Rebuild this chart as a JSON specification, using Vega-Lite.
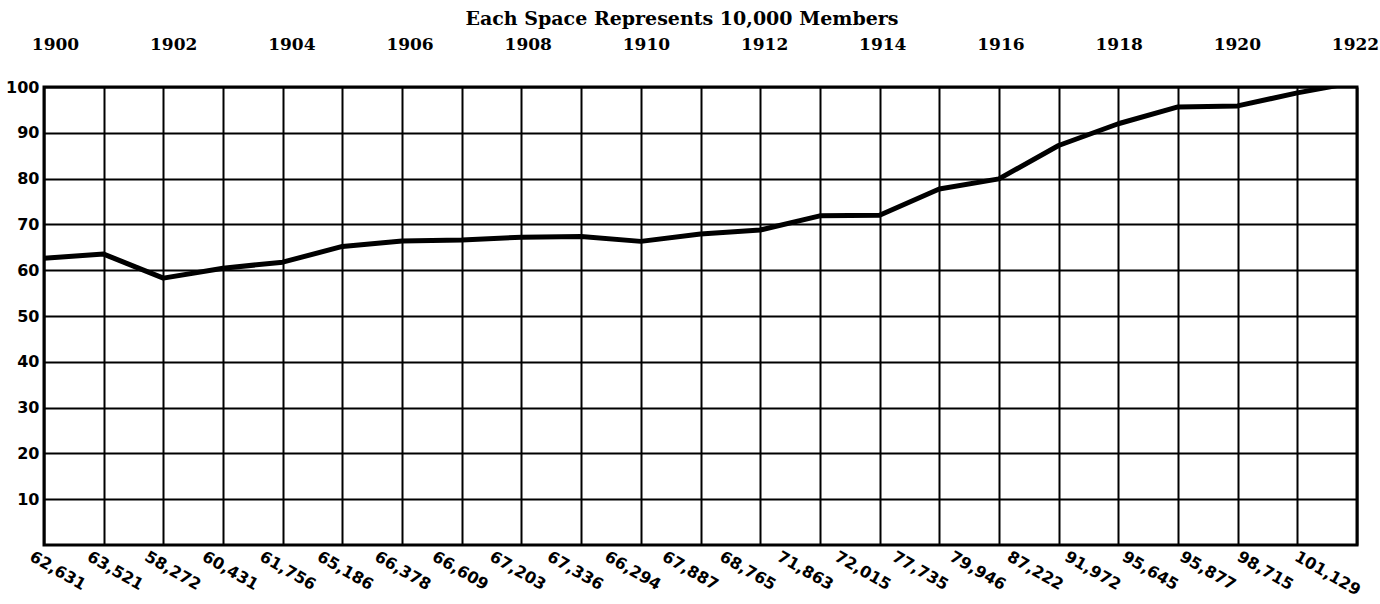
{
  "$schema": "https://vega.github.io/schema/vega-lite/v6.json",
  "width": 1313,
  "height": 458,
  "autosize": {"type": "none"},
  "padding": {"left": 44, "top": 87, "right": 23, "bottom": 59},
  "background": "white",
  "config": {"view": {"stroke": "black", "strokeWidth": 3}},
  "data": {"values": [
    {"year": 1900, "members": 62631},
    {"year": 1901, "members": 63521},
    {"year": 1902, "members": 58272},
    {"year": 1903, "members": 60431},
    {"year": 1904, "members": 61756},
    {"year": 1905, "members": 65186},
    {"year": 1906, "members": 66378},
    {"year": 1907, "members": 66609},
    {"year": 1908, "members": 67203},
    {"year": 1909, "members": 67336},
    {"year": 1910, "members": 66294},
    {"year": 1911, "members": 67887},
    {"year": 1912, "members": 68765},
    {"year": 1913, "members": 71863},
    {"year": 1914, "members": 72015},
    {"year": 1915, "members": 77735},
    {"year": 1916, "members": 79946},
    {"year": 1917, "members": 87222},
    {"year": 1918, "members": 91972},
    {"year": 1919, "members": 95645},
    {"year": 1920, "members": 95877},
    {"year": 1921, "members": 98715},
    {"year": 1922, "members": 101129}
  ]},
  "layer": [
    {
      "mark": {"type": "line", "color": "black", "strokeWidth": 5, "clip": true, "strokeJoin": "round"},
      "encoding": {
        "x": {"field": "year", "type": "quantitative",
          "scale": {"domain": [1900, 1922], "nice": false, "zero": false},
          "axis": {"values": [1900,1901,1902,1903,1904,1905,1906,1907,1908,1909,1910,1911,1912,1913,1914,1915,1916,1917,1918,1919,1920,1921,1922],
            "labels": false, "ticks": false, "domain": false, "grid": true,
            "gridColor": "black", "gridWidth": 2, "gridOpacity": 1, "title": null}},
        "y": {"field": "members", "type": "quantitative",
          "scale": {"domain": [0, 100000], "nice": false, "zero": true},
          "axis": {"values": [10000,20000,30000,40000,50000,60000,70000,80000,90000,100000],
            "labelExpr": "format(datum.value/1000, 'd')",
            "ticks": false, "domain": false, "grid": true,
            "gridColor": "black", "gridWidth": 2, "gridOpacity": 1,
            "labelFont": "DejaVu Sans", "labelFontWeight": "bold", "labelFontSize": 16,
            "labelColor": "black", "labelPadding": 5, "title": null}}
      }
    },
    {
      "mark": {"type": "text", "angle": 30, "align": "left", "baseline": "top", "dx": 0, "dy": 4,
        "font": "DejaVu Sans", "fontWeight": "bold", "fontSize": 16, "color": "black"},
      "encoding": {
        "x": {"field": "year", "type": "quantitative",
          "scale": {"domain": [1900.1217, 1922.957], "nice": false, "zero": false}, "axis": null},
        "y": {"datum": 0, "type": "quantitative"},
        "text": {"field": "members", "type": "quantitative", "format": ","}
      }
    },
    {
      "mark": {"type": "point", "opacity": 0},
      "encoding": {
        "x": {"field": "year", "type": "quantitative",
          "scale": {"domain": [1899.814, 1922.034], "nice": false, "zero": false},
          "axis": {"orient": "top", "values": [1900,1902,1904,1906,1908,1910,1912,1914,1916,1918,1920,1922],
            "format": "d", "ticks": false, "domain": false, "grid": false,
            "labelFont": "DejaVu Serif", "labelFontWeight": "bold", "labelFontSize": 17,
            "labelColor": "black", "labelPadding": 34,
            "title": "Each Space Represents 10,000 Members",
            "titleFont": "DejaVu Serif", "titleFontWeight": "bold", "titleFontSize": 19,
            "titleColor": "black", "titlePadding": 7,
            "titleAnchor": "start", "titleAlign": "left", "titleX": 421}},
        "y": {"field": "members", "type": "quantitative"}
      }
    }
  ],
  "resolve": {"scale": {"x": "independent"}}
}
